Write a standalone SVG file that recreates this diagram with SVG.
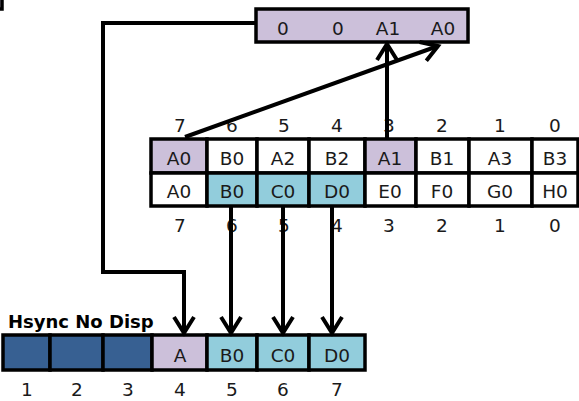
<svg xmlns="http://www.w3.org/2000/svg" width="579" height="401" viewBox="0 0 579 401">
<style>
.c{stroke:#000;stroke-width:3.5}
.lav{fill:#CCC0DA}
.blu{fill:#92CDDC}
.dk{fill:#376092}
.wh{fill:#fff}
text{font-family:"DejaVu Sans",sans-serif;font-size:18.5px;fill:#1a1a1a;text-anchor:middle}
.b{font-family:"DejaVu Sans",sans-serif;font-size:18px;font-weight:bold;text-anchor:start;fill:#000}
.w{fill:none;stroke:#000;stroke-width:4}
</style>
<defs>
<marker id="ah" markerUnits="userSpaceOnUse" markerWidth="30" markerHeight="30" viewBox="-20 -15 30 30" refX="0" refY="0" orient="auto">
<path d="M-16,-10 L0,0 L-16,10" fill="none" stroke="#000" stroke-width="4"/>
</marker>
</defs>
<g id="corner"><rect x="-30" y="-30" width="32" height="39" class="c lav"/></g>
<g id="topbox">
<rect x="256" y="9" width="212" height="33" class="c lav"/>
<text x="283" y="35">0</text><text x="338" y="35">0</text><text x="388" y="35">A1</text><text x="443" y="35">A0</text>
</g>
<g id="table">
<rect x="151" y="139" width="56" height="34" class="c lav"/>
<rect x="207" y="139" width="50" height="34" class="c wh"/>
<rect x="257" y="139" width="52" height="34" class="c wh"/>
<rect x="309" y="139" width="56" height="34" class="c wh"/>
<rect x="365" y="139" width="51" height="34" class="c lav"/>
<rect x="416" y="139" width="53" height="34" class="c wh"/>
<rect x="469" y="139" width="63" height="34" class="c wh"/>
<rect x="532" y="139" width="46" height="34" class="c wh"/>
<rect x="151" y="173" width="56" height="33" class="c wh"/>
<rect x="207" y="173" width="50" height="33" class="c blu"/>
<rect x="257" y="173" width="52" height="33" class="c blu"/>
<rect x="309" y="173" width="56" height="33" class="c blu"/>
<rect x="365" y="173" width="51" height="33" class="c wh"/>
<rect x="416" y="173" width="53" height="33" class="c wh"/>
<rect x="469" y="173" width="63" height="33" class="c wh"/>
<rect x="532" y="173" width="46" height="33" class="c wh"/>
<text x="179" y="165">A0</text><text x="232" y="165">B0</text><text x="283" y="165">A2</text><text x="337" y="165">B2</text><text x="390" y="165">A1</text><text x="442" y="165">B1</text><text x="500" y="165">A3</text><text x="555" y="165">B3</text>
<text x="179" y="198">A0</text><text x="232" y="198">B0</text><text x="283" y="198">C0</text><text x="337" y="198">D0</text><text x="390" y="198">E0</text><text x="442" y="198">F0</text><text x="500" y="198">G0</text><text x="555" y="198">H0</text>
<text x="180" y="132">7</text><text x="232" y="132">6</text><text x="284" y="132">5</text><text x="337" y="132">4</text><text x="389" y="132">3</text><text x="442" y="132">2</text><text x="500" y="132">1</text><text x="555" y="132">0</text>
<text x="180" y="232">7</text><text x="232" y="232">6</text><text x="284" y="232">5</text><text x="337" y="232">4</text><text x="389" y="232">3</text><text x="442" y="232">2</text><text x="500" y="232">1</text><text x="555" y="232">0</text>
</g>
<g id="bottombar">
<text class="b" x="8" y="328">Hsync No Disp</text>
<rect x="3" y="335" width="47" height="35" class="c dk"/>
<rect x="50" y="335" width="53" height="35" class="c dk"/>
<rect x="103" y="335" width="49" height="35" class="c dk"/>
<rect x="152" y="335" width="55" height="35" class="c lav"/>
<rect x="207" y="335" width="50" height="35" class="c blu"/>
<rect x="257" y="335" width="52" height="35" class="c blu"/>
<rect x="309" y="335" width="56" height="35" class="c blu"/>
<text x="180" y="362">A</text><text x="232" y="362">B0</text><text x="283" y="362">C0</text><text x="337" y="362">D0</text>
<text x="27" y="396">1</text><text x="77" y="396">2</text><text x="128" y="396">3</text><text x="180" y="396">4</text><text x="232" y="396">5</text><text x="283" y="396">6</text><text x="337" y="396">7</text>
</g>
<g id="connectors">
<path class="w" d="M256,23 H103 V272 H184 V333" marker-end="url(#ah)"/>
<path class="w" d="M387,139 V44" marker-end="url(#ah)"/>
<path class="w" d="M185,137 L438,46" marker-end="url(#ah)"/>
<path class="w" d="M231,206 V333" marker-end="url(#ah)"/>
<path class="w" d="M283,206 V333" marker-end="url(#ah)"/>
<path class="w" d="M332,206 V333" marker-end="url(#ah)"/>
</g>
</svg>
